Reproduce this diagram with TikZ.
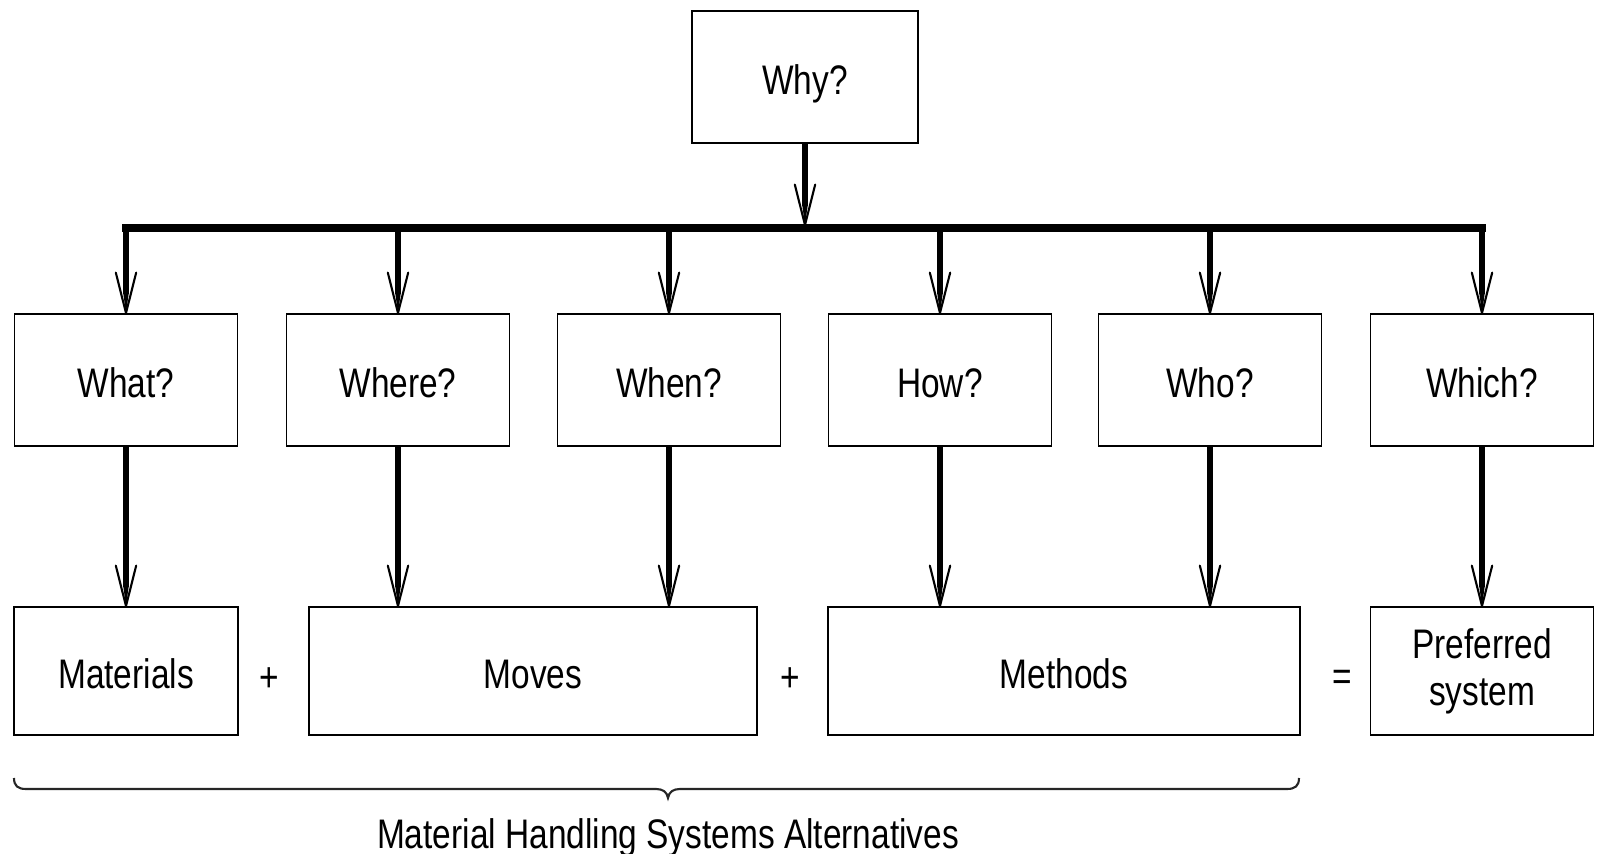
\documentclass[tikz,border=0pt]{standalone}
\usepackage{fontspec}
\setmainfont{Liberation Sans}[FakeStretch=0.81]
\usetikzlibrary{decorations.markings}
\begin{document}
\begin{tikzpicture}[x=0.02cm,y=-0.02cm,
  txt/.style={font=\fontsize{23.5}{26.6}\selectfont},
  box/.style={draw, line width=1.1pt, inner sep=0pt, txt, align=center},
  qbox/.style={box, minimum width=4.46cm, minimum height=2.64cm, text height=19.6pt, text depth=0pt},
  lowbox/.style={box, minimum height=2.56cm, text height=19.6pt, text depth=0pt},
  busline/.style={line width=4.2pt, line cap=rect},
  stemarrow/.style={line width=3.1pt, shorten >=11pt,
    postaction={decorate},
    decoration={markings, mark=at position 1 with {
      \fill[shorten >=0pt, shorten <=0pt] (-11.5pt,1.6pt) -- (0pt,0pt) -- (-11.5pt,-1.6pt) -- cycle;
      \draw[shorten >=0pt, shorten <=0pt, line width=1.2pt, line join=round, line cap=round] (-23pt,5.8pt) -- (0pt,0pt) -- (-23pt,-5.8pt);
    }}},
  bracepath/.style={line width=1.2pt, black!85},
  opsign/.style={txt, inner sep=0pt}
]
\useasboundingbox (0,0) rectangle (1597,854);

% top
\node[qbox, minimum width=4.52cm] (why) at (805,77) {Why?};

% middle row
\node[qbox] (what)  at (126,380) {What?};
\node[qbox] (where) at (398,380) {Where?};
\node[qbox] (when)  at (669,380) {When?};
\node[qbox] (how)   at (940,380) {How?};
\node[qbox] (who)   at (1210,380) {Who?};
\node[qbox] (which) at (1482,380) {Which?};

% bottom row
\node[lowbox, minimum width=4.48cm] (materials) at (126,671) {Materials};
\node[lowbox, minimum width=8.96cm] (moves) at (533,671) {Moves};
\node[lowbox, minimum width=9.44cm] (methods) at (1064,671) {Methods};
\node[box, minimum width=4.46cm, minimum height=2.56cm] (preferred) at (1482,671) {Preferred\\system};

% operators
\node[opsign] (plusa) at (269,680) {+};
\node[opsign] (plusb) at (790,680) {+};
\node[opsign] (equal) at (1342,680) {=};

% bus
\coordinate (bar) at (805,228);
\coordinate (bartop) at (805,225);
\draw[stemarrow] (why.south) -- (why.south |- bartop);
\draw[busline] (what.north |- bar) -- (which.north |- bar);
\foreach \n in {what,where,when,how,who,which}
  \draw[stemarrow] (\n.north |- bar) -- (\n.north);

% middle to bottom
\draw[stemarrow] (what.south) -- (what.south |- materials.north);
\draw[stemarrow] (where.south) -- (where.south |- moves.north);
\draw[stemarrow] (when.south) -- (when.south |- moves.north);
\draw[stemarrow] (how.south) -- (how.south |- methods.north);
\draw[stemarrow] (who.south) -- (who.south |- methods.north);
\draw[stemarrow] (which.south) -- (which.south |- preferred.north);

% brace
\draw[bracepath] (14,778) .. controls (14,786) and (18,789) .. (26,789) -- (656,789)
  .. controls (663,789) and (667,792) .. (668,798)
  .. controls (669,792) and (673,789) .. (680,789) -- (1287,789)
  .. controls (1295,789) and (1299,786) .. (1299,778);
\node[txt, anchor=base, inner sep=0pt] (caption) at (668,848) {Material Handling Systems Alternatives};
\end{tikzpicture}
\end{document}
